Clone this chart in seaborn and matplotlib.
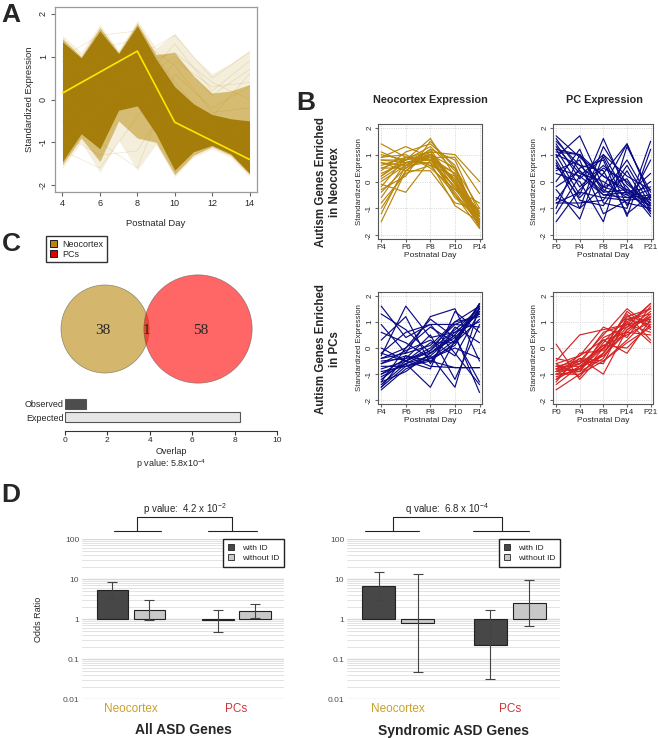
import numpy as np
import pandas as pd
import matplotlib
matplotlib.use("Agg")
from matplotlib import pyplot as plt
from matplotlib.patches import Circle, Patch
import matplotlib.transforms as mtransforms
import seaborn as sns

# ---- panel A: neocortex expression over postnatal days ----
band_days = [4, 5, 6, 7, 8, 9, 10, 11, 12, 13, 14]
outer_hi = [1.5, 1.1, 1.75, 1.15, 1.85, 1.2, 1.55, 1.0, 0.6, 0.85, 1.15]
outer_lo = [-1.6, -1.0, -1.7, -0.95, -1.65, -1.05, -1.8, -1.35, -1.15, -1.35, -1.8]
mid_hi = [1.42, 1.0, 1.68, 1.1, 1.78, 1.05, 1.1, 0.55, 0.15, 0.2, 0.35]
mid_lo = [-1.52, -0.9, -1.45, -0.5, -0.9, -1.0, -1.75, -1.3, -1.1, -1.3, -1.75]
core_hi = [1.35, 0.97, 1.6, 1.07, 1.72, 0.95, 0.3, -0.1, -0.35, -0.45, -0.5]
core_lo = [-1.45, -0.8, -1.15, -0.25, -0.15, -0.8, -1.65, -1.22, -1.07, -1.27, -1.72]
light_days = [4, 6, 8, 10, 12, 14]
light_lines = [
    [0.9, 0.8, 1.0, 1.5, 0.5, 1.1],
    [0.5, 0.9, 0.3, 1.3, 0.2, 0.9],
    [-0.5, 0.2, 0.4, 1.0, 0.1, 0.7],
    [-1.2, -1.6, -0.4, 0.9, 0.3, 0.4],
    [0.2, -1.0, -1.6, 0.6, -0.2, 0.3],
    [-0.8, -1.3, -1.2, 0.2, -0.4, 0.6],
    [1.2, 0.4, 0.8, 1.1, 0.4, 0.0],
    [0.6, 1.2, 1.4, 0.8, -0.3, -0.2],
    [1.0, 1.5, 1.6, 0.4, -0.6, -0.9],
    [-1.0, -0.2, 0.6, 0.1, -0.8, -1.3],
]
mean_days = [4, 8, 10, 14]
mean_vals = [0.15, 1.13, -0.53, -1.4]

# ---- panel B: autism gene profiles ----
neo_stages = ["P4", "P6", "P8", "P10", "P14"]
pc_stages = ["P0", "P4", "P8", "P14", "P21"]
neo_genes_neo_expr = [
    [1.4, 0.9, 0.8, 0.3, -1.3], [1.1, 0.7, 1.0, 0.5, -1.5], [0.9, 1.3, 0.9, 0.1, -1.6],
    [0.8, 0.8, 1.6, 0.2, -1.4], [0.7, 0.6, 1.2, 0.8, -1.2], [0.6, 0.9, 1.1, 1.0, 0.0],
    [0.5, 0.5, 0.9, 0.9, -0.45], [0.3, 0.7, 0.7, -0.2, -1.7], [0.2, 0.8, 1.3, 0.4, -1.3],
    [0.0, 0.6, 1.0, 0.0, -1.5], [-0.2, 0.9, 0.8, -0.4, -1.6], [-0.4, 0.5, 1.2, -0.1, -1.1],
    [-0.6, 0.7, 0.9, -0.6, -1.4], [-0.8, 0.3, 0.6, 0.2, -1.2], [-1.0, 0.4, 1.0, -0.5, -1.75],
    [-1.2, 0.6, 0.7, -0.9, -1.5], [-1.5, 0.4, 1.1, -0.3, -0.8], [0.9, 1.0, 0.5, -0.3, -1.3],
    [0.7, 0.4, 0.4, -0.8, -1.0], [0.4, 1.1, 1.4, 0.6, -1.6], [-0.1, -0.4, 0.8, -0.2, -1.2],
    [1.0, 0.8, 1.1, 0.0, -1.7], [0.2, 0.9, 0.6, -0.5, -1.4], [-0.3, 0.2, 1.5, 0.5, -1.0],
    [0.8, 0.7, 0.9, 0.3, -1.55], [0.5, 0.8, 1.0, -0.1, -1.65], [0.1, 0.7, 0.8, 0.1, -1.45],
]
neo_genes_pc_expr = [
    [1.7, 0.9, 0.2, -0.3, -0.7], [1.5, 0.6, -0.2, -0.5, -0.9], [1.3, 0.3, 0.0, -0.6, -0.5],
    [1.1, 1.0, -0.3, -0.8, -1.0], [1.0, -0.5, 1.6, -0.4, -0.8], [0.9, 1.7, -0.2, 0.1, -1.2],
    [0.6, -0.6, 0.3, 1.4, -0.6], [0.3, 0.0, -1.5, 1.3, -0.4], [0.0, 1.2, -0.8, -1.0, 1.5],
    [-0.3, -1.4, 1.0, 0.2, -0.3], [-0.7, 0.5, 0.8, -1.3, 1.2], [-0.8, -0.8, -0.7, 0.6, -0.9],
    [-1.2, 0.2, 1.0, -0.5, 0.3], [-1.5, -0.3, 0.5, 0.0, -1.0], [0.7, -1.0, -0.2, 1.4, -0.6],
    [1.6, 0.4, -0.5, -0.6, -0.3], [1.2, -0.2, 0.6, -0.2, -1.3], [0.4, 0.8, -1.2, -0.7, 0.0],
    [-0.2, 0.4, -0.4, 0.8, -0.7], [1.4, 0.1, 0.9, -0.9, 0.8], [-1.0, 1.0, 0.2, -0.4, -0.2],
    [0.8, -0.7, -0.9, 0.4, -1.1], [1.0, 0.6, 0.4, -1.2, -0.5], [-0.6, -1.0, 1.3, -0.1, -0.8],
    [1.2, 1.0, -0.4, -0.3, -0.9], [-0.8, -0.4, -0.6, -0.7, -0.6], [0.5, 0.2, -0.5, -0.4, -1.1],
]
pc_genes_neo_expr = [
    [-1.6, -0.8, -0.4, 0.3, 1.7], [-1.4, -0.6, -0.3, 0.5, 1.6], [-1.2, -0.5, -0.1, 0.7, 1.5],
    [-1.0, -0.4, -0.2, 0.4, 1.4], [-0.8, -0.5, 0.0, 0.9, 1.3], [-0.6, -0.3, -0.5, 0.2, 1.7],
    [-0.4, -0.2, 0.1, 1.0, 1.2], [-0.3, 1.6, 0.4, 0.6, 1.0], [-1.1, -0.6, -1.5, 0.3, 1.5],
    [-0.9, -0.7, -0.3, -1.5, 1.6], [1.6, 0.4, 0.9, -0.2, -1.4], [1.3, 0.7, -0.2, 0.5, -1.7],
    [0.9, -0.2, 1.2, 1.5, -0.5], [0.3, 1.2, -0.6, 0.8, 0.2], [-0.4, 0.0, 1.1, 0.4, -1.3],
    [0.0, -0.5, -0.8, 1.4, 0.6], [-1.5, -0.3, -0.7, -0.75, -0.75], [-0.7, -0.7, -0.5, -0.75, -0.75],
    [-1.3, 0.0, 0.8, 0.2, 1.1], [-0.5, -0.4, 0.5, -1.2, 0.9], [0.6, 0.2, -0.4, 0.0, -0.4],
    [-0.2, 0.6, 0.9, 0.9, 0.8], [-1.0, -0.6, -0.1, 1.0, 1.6], [-0.6, -0.1, 0.3, -0.3, 1.4],
    [-1.5, -0.7, -0.4, 0.1, 1.7], [-1.3, -0.9, -0.2, 0.6, 1.3], [-0.2, -0.5, 0.2, 0.2, 1.5],
]
pc_genes_pc_expr = [
    [-0.9, -0.8, -0.2, 0.8, 1.7], [-1.0, -0.6, 0.0, 1.0, 1.5], [-0.8, -0.9, 0.2, 1.2, 1.0],
    [-0.7, -0.5, 0.5, 1.5, 0.8], [-1.2, -0.7, -0.3, 0.6, 1.3], [-1.6, -1.0, -0.5, 0.3, 1.2],
    [-0.5, 0.5, 0.7, 0.9, 0.6], [0.15, -1.2, -0.2, 1.1, 0.9], [-0.9, -0.4, -1.0, 0.7, 1.4],
    [-1.1, -0.8, 0.3, -0.2, 1.1], [-0.6, -1.1, 0.0, 1.3, 0.3], [-0.8, -0.3, 0.8, 0.4, 1.6],
    [-1.0, -0.9, -0.4, 1.0, 0.2], [-0.4, -0.6, 0.1, 0.5, 1.0], [-1.3, -0.2, -0.1, 1.4, 0.7],
    [-0.7, -0.9, 0.4, 0.8, 1.2], [-0.9, -0.5, -0.6, 1.2, 1.5], [-1.4, -0.7, 0.1, 0.0, 0.9],
    [-0.6, -0.3, 0.3, 0.6, 0.5], [-1.0, -1.0, -0.2, 1.1, 1.3], [-0.8, -0.6, 0.6, 0.9, 1.7],
    [-1.2, -0.4, -0.5, 0.2, 0.8], [-0.9, -0.8, 0.0, 0.9, 1.1], [-0.7, -0.7, -0.3, 0.7, 1.2],
]

# ---- panel C: overlap ----
venn_only = [38, 1, 58]
venn_names = ["Neocortex", "PCs"]
overlap_labels = ["Observed", "Expected"]
overlap_vals = [1.0, 8.25]

# ---- panel D: odds ratios ----
groups = ["Neocortex", "PCs"]
all_with = [5.2, 0.93]
all_with_lo = [3.2, 0.48]
all_with_hi = [8.5, 1.7]
all_without = [1.7, 1.6]
all_without_lo = [0.95, 1.05]
all_without_hi = [3.0, 2.4]
syn_with = [6.8, 0.23]
syn_with_lo = [3.0, 0.031]
syn_with_hi = [15.0, 1.7]
syn_without = [0.8, 2.5]
syn_without_lo = [0.047, 0.67]
syn_without_hi = [13.5, 9.6]

sns.set_style("white")
plt.rcParams["font.family"] = ["Liberation Sans", "DejaVu Sans"]
plt.rcParams["mathtext.default"] = "regular"

W, H = 658, 738
fig = plt.figure(figsize=(W / 100, H / 100), dpi=100)


def add_px(x0, y0, x1, y1):
    return fig.add_axes([x0 / W, 1 - y1 / H, (x1 - x0) / W, (y1 - y0) / H])


gold = "#B8860B"

# panel A
axA = add_px(55, 7, 257, 192)
axA.fill_between(band_days, outer_lo, outer_hi, color="#F4EEDD", lw=0)
axA.fill_between(band_days, mid_lo, mid_hi, color="#D6BC72", lw=0)
axA.fill_between(band_days, core_lo, core_hi, color="#A47D0A", lw=0)
for vals in light_lines:
    axA.plot(light_days, vals, color=gold, alpha=0.2, lw=0.5)
axA.plot(mean_days, mean_vals, color="#FFE600", lw=1.2)
axA.set_xlim(3.6, 14.4)
axA.set_ylim(-2.16, 2.16)
axA.set_xticks(range(4, 15, 2))
axA.set_yticks(range(-2, 3))
axA.set_yticklabels([str(v) for v in range(-2, 3)], rotation=90, va="center")
axA.tick_params(labelsize=6.5, length=3, color="#666", pad=2, left=True, bottom=True)
for s in axA.spines.values():
    s.set_color("#999")
    s.set_linewidth(0.9)
axA.set_xlabel("Postnatal Day", fontsize=6.8, labelpad=8)
axA.set_ylabel("Standardized Expression", fontsize=6.8, labelpad=4)


# panel B
def profile_panel(rect, profiles, stages, color):
    ax = add_px(*rect)
    rows = []
    for g, vals in enumerate(profiles):
        for i, v in enumerate(vals):
            rows.append({"gene": g, "stage": i, "value": v})
    df = pd.DataFrame(rows)
    sns.lineplot(data=df, x="stage", y="value", units="gene", estimator=None,
                 color=color, lw=0.85, ax=ax)
    ax.set_xlim(-0.13, 4.1)
    ax.set_ylim(-2.14, 2.14)
    ax.set_xticks(range(5))
    ax.set_xticklabels(stages)
    ax.set_yticks(range(-2, 3))
    ax.set_yticklabels([str(v) for v in range(-2, 3)], rotation=90, va="center")
    ax.grid(True, ls=":", color="#C8C8C8", lw=0.6)
    ax.tick_params(labelsize=5.8, length=2, color="#666", pad=1.5, left=True, bottom=True)
    for s in ax.spines.values():
        s.set_color("#555")
        s.set_linewidth(0.8)
    ax.set_xlabel("Postnatal Day", fontsize=6, labelpad=1)
    ax.set_ylabel("Standardized Expression", fontsize=5.6, labelpad=2)
    return ax


profile_panel((378, 124, 482, 239), neo_genes_neo_expr, neo_stages, gold)
profile_panel((553, 124, 653, 239), neo_genes_pc_expr, pc_stages, "#0A0A85")
profile_panel((378, 292, 482, 404), pc_genes_neo_expr, neo_stages, "#0A0A85")
profile_panel((553, 292, 653, 404), pc_genes_pc_expr, pc_stages, "#D42424")

fig.text(430 / W, 1 - 100 / H, "Neocortex Expression", ha="center", va="center",
         fontsize=7.8, fontweight="bold")
fig.text(604 / W, 1 - 100 / H, "PC Expression", ha="center", va="center",
         fontsize=7.8, fontweight="bold")
fig.text(328 / W, 1 - 182 / H, "Autism Genes Enriched\nin Neocortex", ha="center",
         va="center", rotation=90, fontsize=8.3, fontweight="bold")
fig.text(328 / W, 1 - 349 / H, "Autism Genes Enriched\nin PCs", ha="center",
         va="center", rotation=90, fontsize=8.3, fontweight="bold")

# panel C venn
axV = add_px(40, 265, 280, 392)
axV.set_xlim(40, 280)
axV.set_ylim(392, 265)
axV.axis("off")
n_left = venn_only[0] + venn_only[1]
n_right = venn_only[2] + venn_only[1]
k = 7.05
axV.add_patch(Circle((105, 329), k * np.sqrt(n_left), facecolor=gold, alpha=0.6,
                     edgecolor="#555", lw=0.5))
axV.add_patch(Circle((198, 329), k * np.sqrt(n_right), facecolor="red", alpha=0.6,
                     edgecolor="#555", lw=0.5))
for xpos, n in zip([103, 146, 201], venn_only):
    axV.text(xpos, 330, str(n), ha="center", va="center", fontsize=11,
             family="Liberation Serif")

fig.legend(handles=[Patch(facecolor=gold, edgecolor="black", lw=0.6),
                    Patch(facecolor="#E00000", edgecolor="black", lw=0.6)],
           labels=venn_names, loc="upper left", bbox_to_anchor=(46 / W, 1 - 236 / H),
           fontsize=6.5, frameon=True, fancybox=False, edgecolor="black",
           handlelength=0.8, handleheight=0.8, handletextpad=0.6, borderpad=0.4,
           labelspacing=0.1, borderaxespad=0)

# panel C overlap bars
axO = add_px(65, 396, 277, 425)
sns.barplot(x=overlap_vals, y=overlap_labels, hue=overlap_labels, orient="h",
            palette=["#4D4D4D", "#E6E6E6"], width=0.77, edgecolor="#555",
            linewidth=0.8, legend=False, ax=axO)
axO.set_xlim(0, 10)
axO.set_ylim(1.615, -0.615)
axO.set_xticks(range(0, 11, 2))
for side in ["top", "right", "left"]:
    axO.spines[side].set_visible(False)
axO.spines["bottom"].set_position(("outward", 4))
axO.spines["bottom"].set_color("#333")
axO.tick_params(axis="x", labelsize=6, length=3, color="#333", bottom=True, pad=2)
axO.tick_params(axis="y", labelsize=6.5, length=0, pad=1)
axO.set_ylabel("")
axO.set_xlabel("Overlap\np value: 5.8x10$^{-4}$", fontsize=6.5, labelpad=2,
               linespacing=1.1)


# panel D
def odds_panel(rect, w_or, w_lo, w_hi, wo_or, wo_lo, wo_hi, label, bracket, title,
               ylab):
    ax = add_px(*rect)
    x = np.arange(len(groups))
    off, bw = 0.175, 0.295
    ax.set_yscale("log")
    ax.set_ylim(0.01, 100)
    ax.set_xlim(-0.46, 1.45)
    for dec in [0.01, 0.1, 1, 10]:
        for m in range(1, 10):
            ax.axhline(dec * m, color="#E3E3E3" if m > 1 else "#D9D9D9",
                       lw=0.7 if m > 1 else 1.0, zorder=0)
    ax.axhline(100, color="#D9D9D9", lw=1.0, zorder=0)
    for xs, vals, lo, hi, fc in [(x - off, w_or, w_lo, w_hi, "#474747"),
                                  (x + off, wo_or, wo_lo, wo_hi, "#C8C8C8")]:
        ax.bar(xs, np.array(vals) - 1, bottom=1, width=bw, color=fc,
               edgecolor="#222", lw=0.8, zorder=2)
        ax.errorbar(xs, vals, yerr=[np.array(vals) - np.array(lo),
                                    np.array(hi) - np.array(vals)],
                    fmt="none", ecolor="#444", elinewidth=0.8, capsize=3.5,
                    capthick=0.8, zorder=3)
    ax.set_yticks([0.01, 0.1, 1, 10, 100])
    ax.set_yticklabels(["0.01", "0.1", "1", "10", "100"])
    ax.yaxis.set_minor_locator(matplotlib.ticker.NullLocator())
    ax.set_xticks(x)
    ax.set_xticklabels(groups)
    for t, c in zip(ax.get_xticklabels(), ["#C9A12C", "#D1343A"]):
        t.set_color(c)
    ax.tick_params(axis="x", labelsize=8.5, length=0, pad=3)
    ax.tick_params(axis="y", labelsize=6, length=0, pad=2, labelcolor="#4D4D4D")
    for s in ax.spines.values():
        s.set_visible(False)
    ax.set_xlabel(title, fontsize=10, fontweight="bold", labelpad=6)
    if ylab:
        ax.set_ylabel("Odds Ratio", fontsize=6.5, labelpad=14)
    ax.legend(handles=[Patch(facecolor="#474747", edgecolor="#222", lw=0.6),
                       Patch(facecolor="#C8C8C8", edgecolor="#222", lw=0.6)],
              labels=["with ID", "without ID"], loc="upper right",
              bbox_to_anchor=(1, 1), fontsize=6, frameon=True, fancybox=False,
              edgecolor="#222", handlelength=0.7, handleheight=0.7,
              handletextpad=0.9, borderpad=0.6, labelspacing=0.3, borderaxespad=0,
              framealpha=1)
    tr = mtransforms.blended_transform_factory(ax.transData, ax.transAxes)
    (a0, a1), (b0, b1), va, vb = bracket
    kw = dict(color="#222", lw=0.8, transform=tr, clip_on=False)
    ax.plot([a0, a1], [1.05, 1.05], **kw)
    ax.plot([b0, b1], [1.05, 1.05], **kw)
    ax.plot([va, va, vb, vb], [1.05, 1.1375, 1.1375, 1.05], **kw)
    ax.text((va + vb) / 2, 1.185, label, transform=tr, ha="center", va="center",
            fontsize=7)


odds_panel((82, 539, 284, 699), all_with, all_with_lo, all_with_hi, all_without,
           all_without_lo, all_without_hi, "p value:  4.2 x 10$^{-2}$",
           ((-0.156, 0.288), (0.73, 1.19), 0.061, 0.96), "All ASD Genes", True)
odds_panel((347, 539, 560, 699), syn_with, syn_with_lo, syn_with_hi, syn_without,
           syn_without_lo, syn_without_hi, "q value:  6.8 x 10$^{-4}$",
           ((-0.30, 0.19), (0.67, 1.17), -0.05, 0.93), "Syndromic ASD Genes", False)

for letter, xp, yp in [("A", 11, 15), ("B", 306, 103), ("C", 11, 244), ("D", 11, 495)]:
    fig.text(xp / W, 1 - yp / H, letter, fontsize=19, fontweight="bold",
             ha="center", va="center")

fig.savefig("out.png", dpi=100)
